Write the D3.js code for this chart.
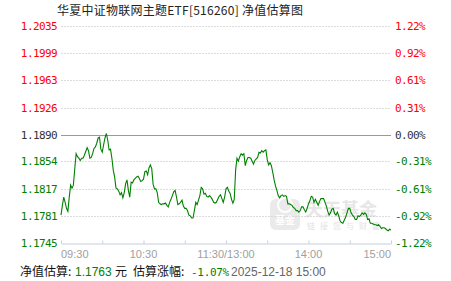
<!DOCTYPE html>
<html>
<head>
<meta charset="utf-8">
<script src="https://cdn.jsdelivr.net/npm/d3@7"></script>
<style>
  body { margin: 0; background: #fff; }
  svg { display: block; }
</style>
</head>
<body>
<svg id="chart" width="451" height="281"></svg>
<script>
const title = "华夏中证物联网主题ETF[516260] 净值估算图";
const prevNav = 1.1890;

// left / right tick labels, top to bottom
const navTicks = [1.2035, 1.1999, 1.1963, 1.1926, 1.1890, 1.1854, 1.1817, 1.1781, 1.1745];
const pctLabels = ["1.22%", "0.92%", "0.61%", "0.31%", "0.00%", "-0.31%", "-0.61%", "-0.92%", "-1.22%"];

const timeTickMinutes = [0, 60, 120, 180, 240];
const timeTickLabels = ["09:30", "10:30", "11:30/13:00", "14:00", "15:00"];

// estimated NAV, one value per trading minute (09:30 .. 11:30/13:00 .. 15:00)
const navValues = [
  1.1783, 1.1796, 1.1807, 1.1800, 1.1792, 1.1788, 1.1807, 1.1823, 1.1819, 1.1823,
  1.1845, 1.1865, 1.1861, 1.1859, 1.1856, 1.1859, 1.1859, 1.1863, 1.1868, 1.1873,
  1.1869, 1.1859, 1.1860, 1.1865, 1.1872, 1.1874, 1.1879, 1.1886, 1.1887, 1.1871,
  1.1867, 1.1877, 1.1886, 1.1892, 1.1883, 1.1870, 1.1871, 1.1859, 1.1843, 1.1834,
  1.1819, 1.1818, 1.1815, 1.1810, 1.1813, 1.1806, 1.1813, 1.1825, 1.1830, 1.1816,
  1.1807, 1.1827, 1.1826, 1.1830, 1.1832, 1.1834, 1.1835, 1.1832, 1.1828, 1.1829,
  1.1831, 1.1841, 1.1842, 1.1837, 1.1846, 1.1850, 1.1845, 1.1824, 1.1818, 1.1818,
  1.1813, 1.1800, 1.1798, 1.1797, 1.1798, 1.1798, 1.1799, 1.1796, 1.1794, 1.1800,
  1.1804, 1.1809, 1.1814, 1.1816, 1.1807, 1.1797, 1.1798, 1.1800, 1.1803, 1.1795,
  1.1792, 1.1792, 1.1789, 1.1783, 1.1782, 1.1779, 1.1779, 1.1789, 1.1800, 1.1797,
  1.1803, 1.1809, 1.1820, 1.1818, 1.1811, 1.1812, 1.1808, 1.1807, 1.1809, 1.1807,
  1.1804, 1.1800, 1.1799, 1.1800, 1.1804, 1.1808, 1.1810, 1.1805, 1.1800, 1.1807,
  1.1818, 1.1820, 1.1815, 1.1812, 1.1804, 1.1799, 1.1804, 1.1843, 1.1859, 1.1855,
  1.1861, 1.1865, 1.1863, 1.1865, 1.1849, 1.1856, 1.1860, 1.1860, 1.1859, 1.1855,
  1.1851, 1.1856, 1.1858, 1.1860, 1.1867, 1.1866, 1.1869, 1.1867, 1.1869, 1.1870,
  1.1857, 1.1850, 1.1853, 1.1849, 1.1840, 1.1830, 1.1822, 1.1816, 1.1809, 1.1806,
  1.1809, 1.1810, 1.1808, 1.1809, 1.1808, 1.1798, 1.1798, 1.1797, 1.1796, 1.1793,
  1.1792, 1.1789, 1.1789, 1.1787, 1.1789, 1.1794, 1.1794, 1.1790, 1.1787, 1.1792,
  1.1798, 1.1802, 1.1808, 1.1807, 1.1800, 1.1804, 1.1800, 1.1796, 1.1801, 1.1805,
  1.1805, 1.1805, 1.1800, 1.1795, 1.1788, 1.1783, 1.1786, 1.1791, 1.1792, 1.1785,
  1.1783, 1.1787, 1.1782, 1.1775, 1.1773, 1.1772, 1.1776, 1.1780, 1.1786, 1.1792,
  1.1792, 1.1786, 1.1783, 1.1781, 1.1777, 1.1777, 1.1782, 1.1781, 1.1783, 1.1786,
  1.1784, 1.1786, 1.1784, 1.1777, 1.1778, 1.1772, 1.1772, 1.1771, 1.1770, 1.1770,
  1.1769, 1.1770, 1.1768, 1.1765, 1.1766, 1.1766, 1.1765, 1.1763, 1.1762, 1.1764,
  1.1763
];

const footer = {
  navLabel: "净值估算:",
  nav: "1.1763",
  unit: "元",
  chgLabel: "估算涨幅:",
  chg: "-1.07%",
  time: "2025-12-18 15:00"
};

const RED = "#ff0000";
const GREEN = "#008000";
const DARK = "#333333";
const monoFont = "'DejaVu Sans Mono', 'Liberation Mono', monospace";
const cjkFont = "'Noto Sans CJK SC', 'Noto Sans', sans-serif";

const svg = d3.select("#chart");

const x = d3.scaleLinear().domain([0, 240]).range([61, 391]);
const y = d3.scaleLinear()
  .domain([d3.min(navTicks), d3.max(navTicks)])
  .range([243.5, 26.5]);

const crisp = (v) => Math.floor(v) + 0.5;
const colorFor = (v) => (v > prevNav ? RED : v < prevNav ? GREEN : DARK);

// title
svg.append("text")
  .attr("x", 57)
  .attr("y", 15)
  .attr("font-family", cjkFont)
  .attr("font-size", 12)
  .attr("letter-spacing", "0.25px")
  .attr("fill", "#222")
  .text(title);

// grid lines
svg.append("g")
  .selectAll("line")
  .data(navTicks.slice(0, -1))
  .enter()
  .append("line")
  .attr("x1", x(0))
  .attr("x2", x(240))
  .attr("y1", (d) => crisp(y(d)))
  .attr("y2", (d) => crisp(y(d)))
  .attr("stroke", (d) => (d === prevNav ? "#999" : "#dcdcdc"))
  .attr("stroke-dasharray", (d) => (d === prevNav ? null : "2,1"))
  .attr("stroke-width", 1);

// watermark (天天基金)
const wm = svg.append("g").attr("opacity", 0.5);
wm.append("rect")
  .attr("x", 270).attr("y", 199).attr("width", 30).attr("height", 31)
  .attr("rx", 6).attr("fill", "#d6d6d6");
wm.append("circle")
  .attr("cx", 285).attr("cy", 205).attr("r", 7)
  .attr("fill", "none").attr("stroke", "#fff").attr("stroke-width", 2);
wm.append("text")
  .attr("x", 285).attr("y", 224)
  .attr("text-anchor", "middle")
  .attr("font-family", cjkFont).attr("font-weight", "bold")
  .attr("font-size", 10).attr("fill", "#fff")
  .text("基金");
wm.append("text")
  .attr("x", 305).attr("y", 216)
  .attr("font-family", cjkFont).attr("font-weight", "bold")
  .attr("font-size", 18).attr("fill", "#d0d0d0")
  .text("天天基金");
wm.append("text")
  .attr("x", 307).attr("y", 229)
  .attr("font-family", cjkFont)
  .attr("font-size", 8).attr("fill", "#c8c8c8")
  .attr("letter-spacing", "5px")
  .text("链接您与财富");

// bottom axis
const xAxis = d3.axisBottom(x)
  .tickValues(d3.range(0, 241, 30))
  .tickSize(-3)
  .tickSizeOuter(0)
  .tickFormat("");

const axisG = svg.append("g")
  .attr("transform", `translate(0,${crisp(y(d3.min(navTicks)))})`)
  .call(xAxis);
axisG.select(".domain").attr("stroke", "#c4cfdb");
axisG.selectAll(".tick line").attr("stroke", "#c4cfdb");

// time labels
svg.append("g")
  .selectAll("text")
  .data(timeTickMinutes)
  .enter()
  .append("text")
  .attr("x", (d) => x(d))
  .attr("y", 258)
  .attr("text-anchor", (d, i) =>
    i === 0 ? "start" : i === timeTickMinutes.length - 1 ? "end" : "middle")
  .attr("font-family", "'Liberation Sans', Arial, sans-serif")
  .attr("font-size", 11)
  .attr("fill", "#a0a0a0")
  .text((d, i) => timeTickLabels[i]);

// left NAV labels
svg.append("g")
  .selectAll("text")
  .data(navTicks)
  .enter()
  .append("text")
  .attr("x", 57)
  .attr("y", (d) => crisp(y(d)))
  .attr("dy", "0.35em")
  .attr("text-anchor", "end")
  .attr("font-family", monoFont)
  .attr("font-size", 11)
  .attr("letter-spacing", "-0.6px")
  .attr("fill", (d) => colorFor(d))
  .text((d) => d.toFixed(4));

// right percent labels
svg.append("g")
  .selectAll("text")
  .data(navTicks)
  .enter()
  .append("text")
  .attr("x", 395)
  .attr("y", (d) => crisp(y(d)))
  .attr("dy", "0.35em")
  .attr("font-family", monoFont)
  .attr("font-size", 11)
  .attr("letter-spacing", "-0.6px")
  .attr("fill", (d) => colorFor(d))
  .text((d, i) => pctLabels[i]);

// NAV line
const line = d3.line()
  .x((d, i) => x(i))
  .y((d) => y(d));

svg.append("path")
  .datum(navValues)
  .attr("d", line)
  .attr("fill", "none")
  .attr("stroke", GREEN)
  .attr("stroke-width", 1.1);

// footer
const ft = svg.append("text")
  .attr("y", 276)
  .attr("font-size", 12)
  .attr("font-family", cjkFont);
ft.append("tspan").attr("x", 20).attr("fill", "#111").text(footer.navLabel);
ft.append("tspan").attr("x", 75).attr("fill", GREEN)
  .attr("font-family", "'Liberation Sans', Arial, sans-serif").text(footer.nav);
ft.append("tspan").attr("x", 115).attr("fill", "#111").text(footer.unit);
ft.append("tspan").attr("x", 133).attr("fill", "#111").text(footer.chgLabel);
ft.append("tspan").attr("x", 191).attr("fill", GREEN)
  .attr("font-family", monoFont).attr("font-size", 11)
  .attr("letter-spacing", "-0.3px").text(footer.chg);
ft.append("tspan").attr("x", 231).attr("fill", "#666")
  .attr("font-family", "'Liberation Sans', Arial, sans-serif").text(footer.time);
</script>
</body>
</html>
